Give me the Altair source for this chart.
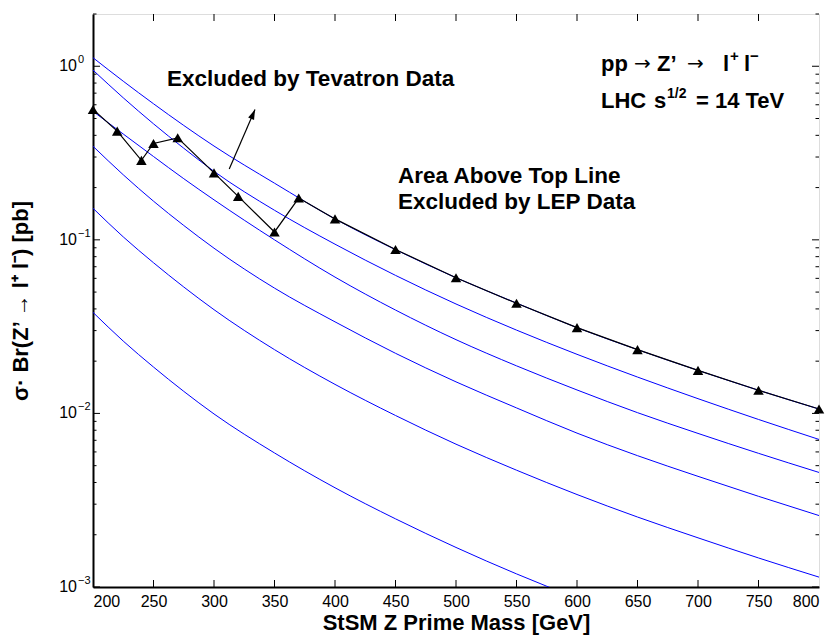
import altair as alt
import pandas as pd

FONT = "Liberation Sans"
SYM = "DejaVu Sans"

# ---- blue curves (sigma*Br vs mass) ----
masses = [200, 225, 250, 275, 300, 350, 400, 450, 500, 550, 600, 650, 700, 750, 800]
curve_a = [1.12, 0.82, 0.608, 0.456, 0.347, 0.212, 0.132, 0.0878, 0.0605, 0.0432, 0.0312, 0.0233, 0.0177, 0.0136, 0.0106]
curve_b = [0.95, 0.658, 0.466, 0.337, 0.248, 0.148, 0.0944, 0.0624, 0.0427, 0.0302, 0.0219, 0.0162, 0.01216, 0.00923, 0.00708]
curve_c = [0.55, 0.407, 0.302, 0.225, 0.170, 0.100, 0.061, 0.0394, 0.0266, 0.0188, 0.01365, 0.0101, 0.00767, 0.00589, 0.00457]
curve_d = [0.346, 0.237, 0.167, 0.121, 0.0895, 0.0527, 0.0337, 0.0222, 0.0152, 0.01076, 0.0077, 0.00571, 0.00434, 0.00333, 0.00258]
curve_e = [0.152, 0.104, 0.0738, 0.0535, 0.0396, 0.0233, 0.0147, 0.00973, 0.00665, 0.00471, 0.00341, 0.00253, 0.00192, 0.00147, 0.00114]
masses_f = [200, 225, 250, 275, 300, 350, 400, 450, 500, 550, 575, 600]
curve_f = [0.0382, 0.0261, 0.0185, 0.0134, 0.00993, 0.00592, 0.00373, 0.00247, 0.00169, 0.00119, 0.00101, 0.000855]

# ---- black limit line with triangles ----
limit_mass = [200, 220, 240, 250, 270, 300, 320, 350, 370, 400, 450, 500, 550, 600, 650, 700, 750, 800]
limit_xsec = [0.564, 0.423, 0.287, 0.359, 0.387, 0.243, 0.178, 0.111, 0.174, 0.132, 0.088,
              0.0605, 0.0431, 0.0312, 0.0233, 0.0177, 0.0136, 0.0106]

# ---- arrow (tail -> head) ----
arrow_mass = [312.6, 333.9]
arrow_xsec = [0.256, 0.564]

# ---- axis ticks ----
x_ticks = [250, 300, 350, 400, 450, 500, 550, 600, 650, 700, 750]
x_labels = [200, 250, 300, 350, 400, 450, 500, 550, 600, 650, 700, 750, 800]
y_major = [0.001, 0.01, 0.1, 1.0]
y_exps = ["\u22123", "\u22122", "\u22121", "0"]
y_minor = [m * d for d in [0.001, 0.01, 0.1] for m in range(2, 10)] + [2.0]

W, H = 726, 573

rows = []
for name, xs, ys in [("A", masses, curve_a), ("B", masses, curve_b), ("C", masses, curve_c),
                     ("D", masses, curve_d), ("E", masses, curve_e), ("F", masses_f, curve_f)]:
    for m, v in zip(xs, ys):
        rows.append({"curve": name, "mass": m, "xsec": v})
curves_df = pd.DataFrame(rows)
limit_df = pd.DataFrame({"mass": limit_mass, "xsec": limit_xsec})
arrow_df = pd.DataFrame({"mass": [arrow_mass[0]], "xsec": [arrow_xsec[0]],
                         "mass2": [arrow_mass[1]], "xsec2": [arrow_xsec[1]]})
head_df = pd.DataFrame({"mass": [arrow_mass[1]], "xsec": [arrow_xsec[1]]})
xt_df = pd.DataFrame({"mass": x_ticks})
ymaj_df = pd.DataFrame({"xsec": y_major, "exp": y_exps})
ymin_df = pd.DataFrame({"xsec": y_minor})
one = pd.DataFrame({"a": [0]})

xscale = alt.Scale(domain=[200, 800], nice=False, zero=False)
yscale = alt.Scale(type="log", domain=[0.001, 2.0], nice=False)

X = alt.X("mass:Q", scale=xscale,
          axis=alt.Axis(values=x_labels, ticks=False, grid=False, labelFontSize=16, labelFont=FONT,
                        labelColor="black", labelPadding=6, domainColor="black", domainWidth=2,
                        title="StSM Z Prime Mass [GeV]", titleFont=FONT, titleFontSize=22,
                        titleFontWeight="bold", titleColor="black", titlePadding=3))
Y = alt.Y("xsec:Q", scale=yscale,
          axis=alt.Axis(labels=False, ticks=False, grid=False, domainColor="black", domainWidth=2,
                        title="\u03c3\u00b7 Br(Z\u2019 \u2192  l\u207a l\u207b) [pb]", titleFont=FONT,
                        titleFontSize=22, titleFontWeight="bold", titleColor="black", titlePadding=61))

curves = alt.Chart(curves_df).mark_line(color="#0000ff", strokeWidth=1, clip=True,
                                        interpolate="monotone").encode(
    x=X, y=Y, detail="curve:N")

limit_line = alt.Chart(limit_df).mark_line(color="black", strokeWidth=1.2).encode(
    x=alt.X("mass:Q", scale=xscale), y=alt.Y("xsec:Q", scale=yscale))
limit_pts = alt.Chart(limit_df).mark_point(shape="triangle-up", filled=True, color="black",
                                           size=110, opacity=1).encode(
    x=alt.X("mass:Q", scale=xscale), y=alt.Y("xsec:Q", scale=yscale))

arrow_line = alt.Chart(arrow_df).mark_rule(color="black", strokeWidth=1.2).encode(
    x=alt.X("mass:Q", scale=xscale), y=alt.Y("xsec:Q", scale=yscale), x2="mass2:Q", y2="xsec2:Q")
arrow_head = alt.Chart(head_df).mark_point(shape="M0,0L0.32,1L-0.32,1Z", filled=True, color="black",
                                           size=400, opacity=1, angle=23).encode(
    x=alt.X("mass:Q", scale=xscale), y=alt.Y("xsec:Q", scale=yscale))

# inward ticks
xt_bot = alt.Chart(xt_df).mark_rule(color="black", strokeWidth=1).encode(
    x=alt.X("mass:Q", scale=xscale), y=alt.value(H), y2=alt.value(H - 7))
xt_top = alt.Chart(xt_df).mark_rule(color="black", strokeWidth=1).encode(
    x=alt.X("mass:Q", scale=xscale), y=alt.value(0), y2=alt.value(7))
ymaj_l = alt.Chart(ymaj_df).mark_rule(color="black", strokeWidth=1).encode(
    y=alt.Y("xsec:Q", scale=yscale), x=alt.value(0), x2=alt.value(7))
ymaj_r = alt.Chart(ymaj_df).mark_rule(color="black", strokeWidth=1).encode(
    y=alt.Y("xsec:Q", scale=yscale), x=alt.value(W), x2=alt.value(W - 7))
ymin_l = alt.Chart(ymin_df).mark_rule(color="black", strokeWidth=1).encode(
    y=alt.Y("xsec:Q", scale=yscale), x=alt.value(0), x2=alt.value(3.5))
ymin_r = alt.Chart(ymin_df).mark_rule(color="black", strokeWidth=1).encode(
    y=alt.Y("xsec:Q", scale=yscale), x=alt.value(W), x2=alt.value(W - 3.5))

# y tick labels 10^n
ylab_base = alt.Chart(ymaj_df).mark_text(text="10", align="right", baseline="middle", fontSize=16,
                                         font=FONT, color="black", dx=-1).encode(
    y=alt.Y("xsec:Q", scale=yscale), x=alt.value(-15))
ylab_exp = alt.Chart(ymaj_df).mark_text(align="left", baseline="middle", fontSize=11, font=FONT,
                                        color="black", dy=-6).encode(
    y=alt.Y("xsec:Q", scale=yscale), x=alt.value(-15), text="exp:N")


def label(txt, x, y, size=22.5, align="left", font=FONT, weight="bold"):
    return alt.Chart(one).mark_text(text=txt, x=x, y=y, fontSize=size, fontWeight=weight, font=font,
                                    align=align, baseline="alphabetic", color="black")


texts = [
    label("Excluded by Tevatron Data", 74, 72),
    label("Area Above Top Line", 305, 169),
    label("Excluded by LEP Data", 305, 195),
    # pp -> Z' -> l+ l-
    label("pp", 508, 57, size=22),
    label("\u2192", 541, 56, size=20, font=SYM, weight="normal"),
    label("Z\u2019", 564, 57, size=22),
    label("\u2192", 594, 56, size=20, font=SYM, weight="normal"),
    label("l", 630, 57, size=22),
    label("+", 637, 47, size=15),
    label("l", 651, 57, size=22),
    label("\u2212", 657, 47, size=15),
    # LHC s^1/2 = 14 TeV
    label("LHC", 508, 94, size=22),
    label("s", 561, 94, size=22),
    label("1/2", 574, 84, size=14),
    label("= 14 TeV", 603, 94, size=22),
]

chart = alt.layer(
    curves, limit_line, limit_pts, arrow_line, arrow_head,
    xt_bot, xt_top, ymaj_l, ymaj_r, ymin_l, ymin_r, ylab_base, ylab_exp, *texts
).properties(
    width=W, height=H,
    autosize=alt.AutoSizeParams(type="none"),
    padding={"left": 85, "top": 6, "right": 7, "bottom": 48},
).configure_view(stroke="black", strokeWidth=1.5).configure(background="white")

chart.save("out.html", embed_options={"renderer": "svg", "actions": False})
